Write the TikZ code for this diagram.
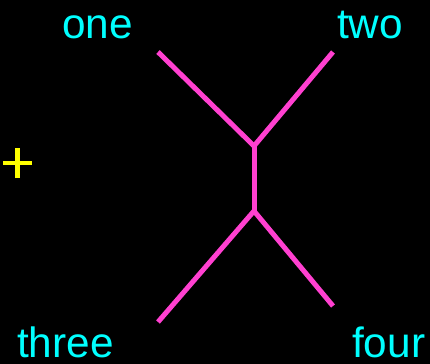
\documentclass[tikz,border=0pt]{standalone}
\usepackage{fontspec}
\setmainfont{Liberation Sans}
\usepackage{tikz}
\usetikzlibrary{positioning}

\definecolor{leafcyan}{RGB}{0,255,255}
\definecolor{edgepink}{RGB}{255,64,208}
\definecolor{markyellow}{RGB}{255,255,0}

\begin{document}
\begin{tikzpicture}[x=1bp, y=-1bp,
    leaf/.style={text=leafcyan, inner sep=0pt, anchor=base west,
        font=\fontsize{42.5}{42.5}\selectfont},
    edge/.style={draw=edgepink, line width=5bp}]
        % background
        \fill[black] (0,0) rectangle (430,364);
        \useasboundingbox (0,0) rectangle (430,364);

        % labels
        \node[leaf] (one) at (62,38) {one};
        \node[leaf] (two) at (337,38) {two};
        \node[leaf] (three) at (17,357) {three};
        \node[leaf] (four) at (352,357) {four};

        % tree
        \coordinate (vtop) at (254,146);
        \coordinate (vbot) at (254,211);
        \coordinate (e1) at (158,52);
        \coordinate (e2) at (333,52);
        \coordinate (e3) at (158,322);
        \coordinate (e4) at (333,306);

        \draw[edge] (e1) -- (vtop);
        \draw[edge] (e2) -- (vtop);
        \draw[edge] (vtop) -- (vbot);
        \draw[edge] (vbot) -- (e3);
        \draw[edge] (vbot) -- (e4);

        % marker
        \coordinate (mark) at (17.5,163);
        \draw[markyellow, line width=4bp] ([xshift=-14.5bp]mark) -- ([xshift=14.5bp]mark);
        \draw[markyellow, line width=4bp] ([yshift=-15bp]mark) -- ([yshift=15bp]mark);
    \end{tikzpicture}
\end{document}
